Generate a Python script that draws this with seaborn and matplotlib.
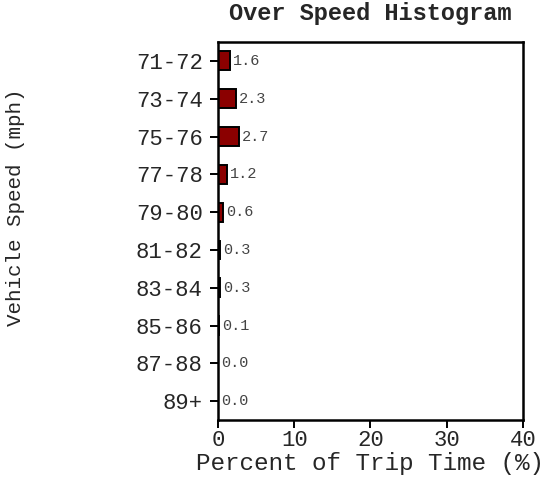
import matplotlib
matplotlib.use("Agg")
import matplotlib.pyplot as plt
import pandas as pd
import seaborn as sns

speed_bins = ["71-72", "73-74", "75-76", "77-78", "79-80",
              "81-82", "83-84", "85-86", "87-88", "89+"]
percent_time = [1.6, 2.3, 2.7, 1.2, 0.6, 0.3, 0.3, 0.1, 0.0, 0.0]

df = pd.DataFrame({"speed": speed_bins, "percent": percent_time})

sns.set_style("ticks")
plt.rcParams["font.family"] = ["Liberation Mono", "DejaVu Sans Mono"]

fig = plt.figure(figsize=(5.44, 4.83), dpi=100)
ax = fig.add_axes([0.401, 0.130, 0.560, 0.783])

sns.barplot(data=df, x="percent", y="speed", orient="h", ax=ax,
            color="#8b0000", edgecolor="black", linewidth=1.4,
            width=0.5, saturation=1)

for i, v in enumerate(percent_time):
    ax.text(v + 0.4, i, f"{v:.1f}", va="center", ha="left",
            fontsize=11, color="#444444")

ax.set_xlim(0, 40)
ax.set_xticks([0, 10, 20, 30, 40])
ax.set_title("Over Speed Histogram", fontsize=17, fontweight="bold", pad=16)
ax.set_xlabel("Percent of Trip Time (%)", fontsize=17.5, labelpad=1)
ax.set_ylabel("")
fig.text(16 / 544, 1 - 207 / 483, "Vehicle Speed (mph)", rotation=90,
         ha="center", va="center", fontsize=15)
ax.tick_params(axis="both", labelsize=16, length=6, width=1.4, color="black")
ax.tick_params(axis="y", pad=5)
ax.tick_params(axis="x", pad=1)
for s in ax.spines.values():
    s.set_linewidth(1.8)
    s.set_color("black")
    s.set_visible(True)

fig.savefig("out.png", dpi=100)
